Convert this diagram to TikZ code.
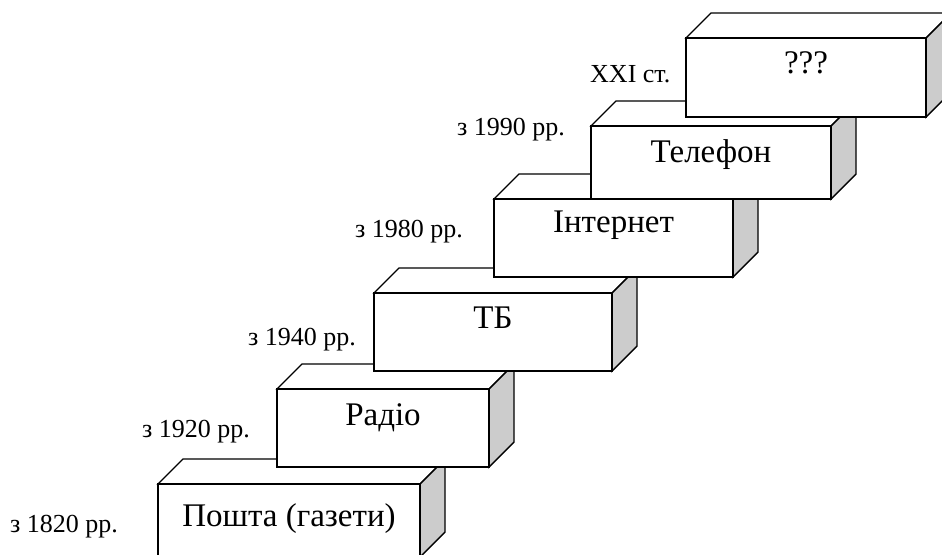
\documentclass[tikz,border=0pt]{standalone}
\usepackage{fontspec}
\setmainfont{Liberation Serif}
\definecolor{sidegray}{RGB}{204,204,204}
\tikzset{
  face/.style={draw=black, line width=1.4pt, line join=miter},
  frontface/.style={face, fill=white},
  topface/.style={face, fill=white},
  sideface/.style={face, fill=sidegray},
  boxtext/.style={anchor=base, inner sep=0pt, font=\fontsize{33}{38}\selectfont},
  yeartext/.style={anchor=base west, inner sep=0pt, font=\fontsize{26}{30}\selectfont}
}
% #1 name, #2 x1, #3 ytop, #4 x2, #5 ybot, #6 text, #7 baseline offset
\newcommand{\stairbox}[7]{%
  \path[topface] (#2,#3) -- ++(25,-25) -- (#4+25,#3-25) -- (#4,#3) -- cycle;
  \path[sideface] (#4,#3) -- ++(25,-25) -- (#4+25,#5-25) -- (#4,#5) -- cycle;
  \path[frontface] (#2,#3) rectangle (#4,#5);
  \node[boxtext] (#1) at ({(#2+#4)/2},{#3+#7}) {#6};
}
\begin{document}
\begin{tikzpicture}[x=1pt, y=-1pt]
  \useasboundingbox (0,0) rectangle (942,554);
  \clip (0,0) rectangle (942,554);
  \stairbox{posta}{158}{484}{420}{557}{Пошта (газети)}{42}
  \stairbox{radio}{277}{389}{489}{467}{Радіо}{36}
  \stairbox{tv}{374}{293}{612}{371}{ТБ}{35}
  \stairbox{inet}{494}{199}{733}{277}{Інтернет}{33}
  \stairbox{phone}{591}{126}{831}{199}{Телефон}{36}
  \stairbox{future}{686}{38}{926}{117}{???}{35}
  \node[yeartext] (y1820) at (10,532) {з 1820 рр.};
  \node[yeartext] (y1920) at (142,437) {з 1920 рр.};
  \node[yeartext] (y1940) at (248,345) {з 1940 рр.};
  \node[yeartext] (y1980) at (355,237) {з 1980 рр.};
  \node[yeartext] (y1990) at (457,135) {з 1990 рр.};
  \node[yeartext] (yxxi) at (590,82) {XXI ст.};
\end{tikzpicture}
\end{document}
